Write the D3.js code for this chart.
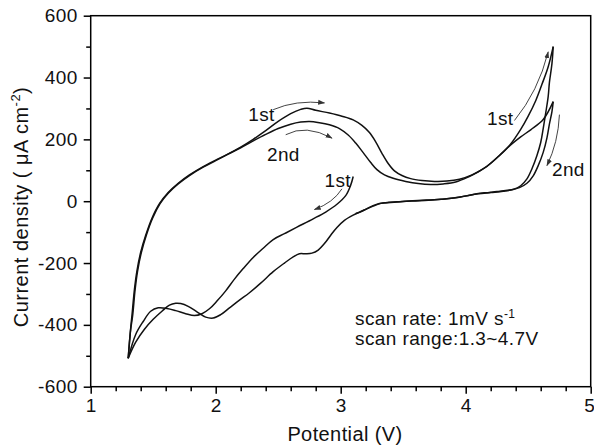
<!DOCTYPE html>
<html><head><meta charset="utf-8">
<script src="https://cdn.jsdelivr.net/npm/d3@7"></script>
<style>
html,body{margin:0;padding:0;background:#fff;}
svg{display:block;font-family:"Liberation Sans",Arial,Helvetica,sans-serif;}
</style></head><body>
<svg id="chart" width="594" height="448"></svg>
<script>
// ---- axis ticks / labels ----
const xTicks = [1, 2, 3, 4, 5];
const xMinorTicks = [1.2,1.4,1.6,1.8,2.2,2.4,2.6,2.8,3.2,3.4,3.6,3.8,4.2,4.4,4.6,4.8];
const yTicks = [-600, -400, -200, 0, 200, 400, 600];
const yMinorTicks = [-500, -300, -100, 100, 300, 500];
const xLabel = "Potential (V)";
const yLabel = "Current density ( \u03bcA cm";
const yLabelSup = "-2";

// ---- data: [potential V, current density µA cm-2] ----
const cycle1Cathodic = [[3.10,80],[3.08,52],[3.04,18],[2.97,-10],[2.88,-35],[2.78,-57],[2.65,-84],[2.55,-105],[2.46,-124],[2.38,-152],[2.30,-182],[2.22,-218],[2.15,-252],[2.08,-290],[2.01,-323],[1.95,-348],[1.89,-364],[1.83,-370],[1.76,-364],[1.68,-354],[1.61,-347],[1.54,-345],[1.48,-356],[1.42,-389],[1.36,-431],[1.30,-508]];
const cycle1Anodic = [[1.30,-508],[1.31,-455],[1.32,-410],[1.33,-370],[1.35,-285],[1.37,-225],[1.40,-165],[1.44,-110],[1.49,-55],[1.55,-8],[1.62,28],[1.70,58],[1.79,85],[1.90,112],[2.00,133],[2.10,153],[2.20,175],[2.30,200],[2.40,228],[2.50,258],[2.60,283],[2.68,297],[2.73,301],[2.80,294],[2.91,285],[3.01,275],[3.10,263],[3.17,245],[3.23,222],[3.28,192],[3.33,155],[3.38,122],[3.43,98],[3.49,83],[3.56,73],[3.65,67],[3.75,64],[3.85,65],[3.95,71],[4.05,85],[4.17,113],[4.27,148],[4.36,185],[4.44,232],[4.50,275],[4.56,325],[4.61,378],[4.66,435],[4.70,500]];
const cycle1Reverse = [[4.70,500],[4.69,445],[4.67,385],[4.66,339],[4.64,285],[4.62,235],[4.60,190],[4.57,148],[4.53,105],[4.49,72],[4.44,50],[4.38,38],[4.30,32],[4.20,28],[4.10,24],[4.00,17],[3.90,10],[3.80,6],[3.70,3],[3.60,1],[3.50,-1],[3.40,-4],[3.32,-7],[3.26,-16],[3.18,-30],[3.10,-45],[3.03,-62],[2.97,-85],[2.92,-110],[2.87,-137],[2.82,-158],[2.77,-168],[2.72,-170],[2.67,-170],[2.62,-180],[2.55,-200],[2.46,-228],[2.36,-265],[2.27,-296],[2.19,-320],[2.11,-345],[2.04,-367],[1.98,-378],[1.92,-375],[1.85,-358],[1.78,-340],[1.72,-331],[1.68,-330],[1.63,-336],[1.57,-356],[1.50,-382],[1.43,-414],[1.36,-456],[1.30,-508]];
const cycle2Anodic = [[1.30,-508],[1.31,-458],[1.32,-414],[1.335,-372],[1.355,-287],[1.375,-226],[1.405,-166],[1.445,-110],[1.495,-55],[1.555,-8],[1.62,26],[1.70,56],[1.79,83],[1.90,110],[2.00,131],[2.10,152],[2.20,173],[2.30,195],[2.40,216],[2.50,235],[2.60,249],[2.68,256],[2.75,258],[2.83,254],[2.91,247],[2.99,235],[3.06,214],[3.12,188],[3.18,157],[3.24,125],[3.29,102],[3.35,85],[3.42,74],[3.52,64],[3.62,57],[3.72,54],[3.82,56],[3.92,62],[4.02,78],[4.10,95],[4.17,113],[4.27,148],[4.36,182],[4.44,208],[4.52,231],[4.62,264],[4.70,322]];
const cycle2Reverse = [[4.70,322],[4.69,290],[4.67,250],[4.65,205],[4.62,158],[4.58,115],[4.54,82],[4.49,58],[4.43,44],[4.35,36],[4.25,31],[4.15,27],[4.05,21],[3.95,13],[3.85,8],[3.75,5],[3.65,3],[3.55,1],[3.45,-2],[3.36,-5],[3.28,-11],[3.21,-24],[3.15,-36],[3.12,-40]];
const series = [cycle1Cathodic, cycle1Anodic, cycle1Reverse, cycle2Anodic, cycle2Reverse];

// ---- annotations ----
const noteLines = ["scan rate: 1mV  s", "scan range:1.3~4.7V"];
const noteSup = "-1";
const cycleLabels = [
  {text: "1st", v: 2.26, i: 260},
  {text: "2nd", v: 2.41, i: 131},
  {text: "1st", v: 2.87, i: 47},
  {text: "1st", v: 4.17, i: 245},
  {text: "2nd", v: 4.69, i: 80}
];
// arrows: [start, control, end] in data units
const arrows = [
  [[2.46,296],[2.64,328],[2.87,318]],
  [[2.56,215],[2.72,250],[2.93,204]],
  [[3.01,40],[2.94,-5],[2.79,-27]],
  [[4.39,261],[4.58,355],[4.66,483]],
  [[4.75,280],[4.74,190],[4.65,115]]
];

// ---- layout ----
const W = 594, H = 448;
const mLeft = 90.7, mRight = 590.7, mTop = 15.7, mBottom = 386.7;
const svg = d3.select("#chart");
const x = d3.scaleLinear().domain([1, 5]).range([mLeft, mRight]);
const y = d3.scaleLinear().domain([-600, 600]).range([mBottom, mTop]);
const FS = 19;

svg.append("defs").append("marker")
  .attr("id", "ah").attr("viewBox", "0 0 10 10").attr("refX", 9).attr("refY", 5)
  .attr("markerWidth", 7).attr("markerHeight", 7).attr("orient", "auto")
  .attr("markerUnits", "userSpaceOnUse")
  .append("path").attr("d", "M0,1.5L10,5L0,8.5Z").attr("fill", "#333");

// axes
function styleAxis(g) {
  g.select(".domain").remove();
  g.selectAll("line").attr("stroke", "#000").attr("stroke-width", 1.5);
  g.selectAll("text").attr("fill", "#111").style("font-size", FS + "px").style("letter-spacing", "0.4px");
}
svg.append("g").attr("transform", `translate(0,${mBottom})`)
  .call(d3.axisBottom(x).tickValues(xMinorTicks).tickSize(4.5).tickFormat(""))
  .call(styleAxis);
const xAxisG = svg.append("g").attr("transform", `translate(0,${mBottom})`)
  .call(d3.axisBottom(x).tickValues(xTicks).tickSize(7).tickPadding(5).tickFormat(d3.format("d")))
  .call(styleAxis);
// keep the last label inside the window
xAxisG.selectAll(".tick text").filter(d => d === 5).attr("text-anchor", "end").attr("dx", 4);
svg.append("g").attr("transform", `translate(${mLeft},0)`)
  .call(d3.axisLeft(y).tickValues(yMinorTicks).tickSize(4.5).tickFormat(""))
  .call(styleAxis);
svg.append("g").attr("transform", `translate(${mLeft},0)`)
  .call(d3.axisLeft(y).tickValues(yTicks).tickSize(7).tickPadding(6).tickFormat(d => d < 0 ? "-" + Math.abs(d) : String(d)))
  .call(styleAxis);

// frame
svg.append("rect").attr("x", mLeft).attr("y", mTop).attr("width", mRight - mLeft).attr("height", mBottom - mTop)
  .attr("fill", "none").attr("stroke", "#000").attr("stroke-width", 1.5);

// curves
const line = d3.line().x(d => x(d[0])).y(d => y(d[1])).curve(d3.curveCatmullRom.alpha(0.5));
svg.append("g").selectAll("path").data(series).join("path")
  .attr("d", line).attr("fill", "none").attr("stroke", "#111").attr("stroke-width", 1.5)
  .attr("stroke-linejoin", "round");

// arrows
svg.append("g").selectAll("path").data(arrows).join("path")
  .attr("d", a => `M${x(a[0][0])},${y(a[0][1])}Q${x(a[1][0])},${y(a[1][1])} ${x(a[2][0])},${y(a[2][1])}`)
  .attr("fill", "none").attr("stroke", "#444").attr("stroke-width", 1).attr("marker-end", "url(#ah)");

// cycle labels
svg.append("g").selectAll("text").data(cycleLabels).join("text")
  .attr("x", d => x(d.v)).attr("y", d => y(d.i))
  .style("font-size", FS + "px").style("letter-spacing", "0.4px").attr("fill", "#111")
  .text(d => d.text);

// note
const note = svg.append("g").style("font-size", FS + "px").style("letter-spacing", "0.4px").attr("fill", "#111");
const t1 = note.append("text").attr("x", 355).attr("y", 325);
t1.append("tspan").text(noteLines[0]);
t1.append("tspan").attr("dy", -7).style("font-size", "12px").text(noteSup);
note.append("text").attr("x", 355).attr("y", 345).text(noteLines[1]);

// axis titles
svg.append("text").attr("x", 345).attr("y", 441).attr("text-anchor", "middle")
  .style("font-size", "20px").style("letter-spacing", "0.4px").attr("fill", "#111").text(xLabel);
const yt = svg.append("text").attr("transform", "translate(28,207) rotate(-90)").attr("text-anchor", "middle")
  .style("font-size", "20px").style("letter-spacing", "0.5px").attr("fill", "#111");
yt.append("tspan").text(yLabel);
yt.append("tspan").attr("dy", -8).style("font-size", "13px").text(yLabelSup);
yt.append("tspan").attr("dy", 8).text(")");
</script>
</body></html>
